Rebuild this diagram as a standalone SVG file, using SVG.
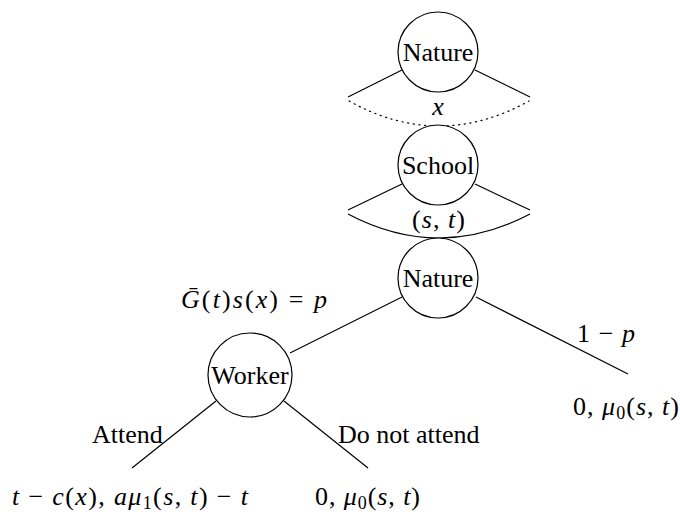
<svg xmlns="http://www.w3.org/2000/svg" width="680" height="516" viewBox="0 0 680 516">
<style>
.n{fill:#fff;stroke:#000;stroke-width:1.2}
.e{fill:none;stroke:#000;stroke-width:1.2}
</style>
<rect width="680" height="516" fill="#fff"/>
<g id="connectors">
<line class="e" x1="402" y1="70" x2="348" y2="97"/>
<line class="e" x1="475" y1="70" x2="530" y2="97"/>
<path class="e" d="M349,101 Q439,151 529,101" stroke-dasharray="1.2 4.5" stroke-linecap="round"/>
<line class="e" x1="402" y1="184" x2="348" y2="210"/>
<line class="e" x1="475" y1="184" x2="530" y2="210"/>
<path class="e" d="M348,214 Q439,262 530,214"/>
<line class="e" x1="402" y1="297" x2="290" y2="353"/>
<line class="e" x1="476" y1="297" x2="628" y2="374"/>
<line class="e" x1="216" y1="401" x2="132" y2="468"/>
<line class="e" x1="284" y1="401" x2="368" y2="468"/>
</g>
<g id="nature1">
<circle class="n" cx="438" cy="52" r="40"/>
<text font-family="Liberation Serif" font-size="26" text-anchor="middle" x="438" y="61">Nature</text>
</g>
<g id="school">
<circle class="n" cx="438" cy="165" r="40"/>
<text font-family="Liberation Serif" font-size="26" text-anchor="middle" x="438" y="174">School</text>
</g>
<g id="nature2">
<circle class="n" cx="438" cy="278" r="40"/>
<text font-family="Liberation Serif" font-size="26" text-anchor="middle" x="438" y="287">Nature</text>
</g>
<g id="worker">
<circle class="n" cx="250" cy="375" r="42"/>
<text font-family="Liberation Serif" font-size="26" text-anchor="middle" x="250" y="384">Worker</text>
</g>
<g id="labels">
<text font-family="Liberation Serif" font-size="26" font-style="italic" text-anchor="middle" x="438" y="115">x</text>
<text font-family="Liberation Serif" font-size="26" x="412" y="228" textLength="53" lengthAdjust="spacing">(<tspan font-style="italic">s</tspan>, <tspan font-style="italic">t</tspan>)</text>
<text font-family="Liberation Serif" font-size="26" x="181" y="308" textLength="146" lengthAdjust="spacing"><tspan font-style="italic">Ḡ</tspan>(<tspan font-style="italic">t</tspan>)<tspan font-style="italic">s</tspan>(<tspan font-style="italic">x</tspan>) = <tspan font-style="italic">p</tspan></text>
<text font-family="Liberation Serif" font-size="26" x="577" y="342" textLength="58" lengthAdjust="spacing">1 − <tspan font-style="italic">p</tspan></text>
<text font-family="Liberation Serif" font-size="26" x="573" y="415" textLength="106" lengthAdjust="spacing">0, <tspan font-style="italic">μ</tspan><tspan font-size="18" dy="4">0</tspan><tspan dy="-4">(</tspan><tspan font-style="italic">s</tspan>, <tspan font-style="italic">t</tspan>)</text>
<text font-family="Liberation Serif" font-size="26" x="92" y="443">Attend</text>
<text font-family="Liberation Serif" font-size="26" x="338" y="443">Do not attend</text>
<text font-family="Liberation Serif" font-size="26" x="12" y="505" textLength="236" lengthAdjust="spacing"><tspan font-style="italic">t</tspan> − <tspan font-style="italic">c</tspan>(<tspan font-style="italic">x</tspan>), <tspan font-style="italic">aμ</tspan><tspan font-size="18" dy="4">1</tspan><tspan dy="-4">(</tspan><tspan font-style="italic">s</tspan>, <tspan font-style="italic">t</tspan>) − <tspan font-style="italic">t</tspan></text>
<text font-family="Liberation Serif" font-size="26" x="315" y="505" textLength="105" lengthAdjust="spacing">0, <tspan font-style="italic">μ</tspan><tspan font-size="18" dy="4">0</tspan><tspan dy="-4">(</tspan><tspan font-style="italic">s</tspan>, <tspan font-style="italic">t</tspan>)</text>
</g>
</svg>
